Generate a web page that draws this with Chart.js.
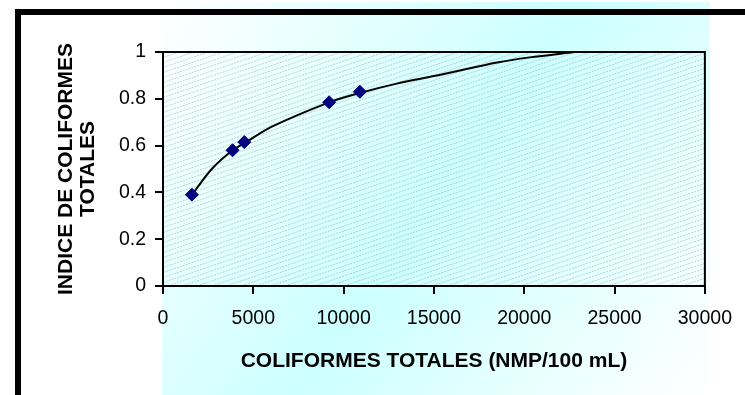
<!DOCTYPE html>
<html>
<head>
<meta charset="utf-8">
<style>
  html, body { margin: 0; padding: 0; background: #fff; }
</style>
<script src="https://cdn.jsdelivr.net/npm/chart.js@4.4.0/dist/chart.umd.min.js"></script>
</head>
<body>
<canvas id="myChart" width="745" height="395"></canvas>
<script>
// measured samples
var pointX = [1600, 3850, 4500, 9200, 10900];
var pointY = [0.39, 0.58, 0.615, 0.785, 0.83];
// trend curve
var curveX = [1600, 2700, 3850, 4500, 6000, 9200, 10900, 13000, 15000, 18500, 20300, 22800];
var curveY = [0.39, 0.50, 0.58, 0.61, 0.68, 0.785, 0.825, 0.866, 0.897, 0.955, 0.977, 1.0];
var xTicks = [0, 5000, 10000, 15000, 20000, 25000, 30000];
var yTicks = [0, 0.2, 0.4, 0.6, 0.8, 1];
var xTitle = 'COLIFORMES TOTALES (NMP/100 mL)';
var yTitle = ['INDICE DE COLIFORMES', 'TOTALES'];

function toXY(xs, ys) {
    return xs.map(function (x, i) { return { x: x, y: ys[i] }; });
}

var backdrop = {
    id: 'backdrop',
    beforeDraw: function (chart) {
        var c = chart.ctx, a = chart.chartArea;
        c.save();
        c.fillStyle = '#fff';
        c.fillRect(0, 0, chart.width, chart.height);
        // cyan gradient panel
        var g = c.createLinearGradient(162, 2, 710, 395);
        g.addColorStop(0, '#ffffff');
        g.addColorStop(0.5, '#ccffff');
        g.addColorStop(1, '#ffffff');
        c.fillStyle = g;
        c.fillRect(162, 2, 548, 393);
        // hatching in the plot area
        c.beginPath();
        c.rect(a.left, a.top, a.right - a.left, a.bottom - a.top);
        c.clip();
        c.strokeStyle = 'rgba(120,140,140,0.38)';
        c.lineWidth = 1;
        c.setLineDash([2, 1]);
        var w = a.right - a.left;
        for (var y = a.top - 5; y < a.bottom + w * 0.34 + 10; y += 5) {
            c.beginPath();
            c.moveTo(a.left, y + 0.5);
            c.lineTo(a.right, y - w * 0.34 + 0.5);
            c.stroke();
        }
        c.restore();
        // black frame
        c.save();
        c.fillStyle = '#000';
        c.fillRect(15, 9, 730, 6);
        c.fillRect(15, 9, 6, 386);
        c.restore();
    },
    afterDatasetsDraw: function (chart) {
        var c = chart.ctx, a = chart.chartArea;
        c.save();
        c.strokeStyle = '#000';
        c.lineWidth = 2;
        c.beginPath();
        c.moveTo(a.left, a.top);
        c.lineTo(a.right, a.top);
        c.lineTo(a.right, a.bottom);
        c.stroke();
        c.restore();
    }
};

var ctx = document.getElementById('myChart').getContext('2d');
var myChart = new Chart(ctx, {
    type: 'scatter',
    data: {
        datasets: [{
            label: 'curva',
            data: toXY(curveX, curveY),
            showLine: true,
            borderColor: '#000',
            borderWidth: 2,
            pointRadius: 0,
            tension: 0.3,
            order: 2
        }, {
            label: 'datos',
            data: toXY(pointX, pointY),
            pointStyle: 'rectRot',
            pointRadius: 6.5,
            backgroundColor: '#000080',
            borderColor: '#000080',
            borderWidth: 1,
            order: 1
        }]
    },
    options: {
        responsive: false,
        devicePixelRatio: 1,
        animation: false,
        layout: { padding: { left: 0, right: 35, top: 52, bottom: 0 } },
        plugins: { legend: { display: false }, tooltip: { enabled: false } },
        scales: {
            x: {
                type: 'linear',
                min: 0,
                max: 30000,
                afterBuildTicks: function (s) { s.ticks = xTicks.map(function (v) { return { value: v }; }); },
                afterFit: function (s) { s.height = 109; },
                ticks: {
                    color: '#000',
                    padding: 13,
                    font: { family: 'Liberation Sans', size: 19.5 },
                    callback: function (v) { return String(v); }
                },
                grid: { drawOnChartArea: false, drawTicks: true, tickLength: 8, color: '#000', lineWidth: 2 },
                border: { display: true, color: '#000', width: 2 },
                title: {
                    display: true,
                    text: xTitle,
                    color: '#000',
                    font: { family: 'Liberation Sans', size: 21, weight: 'bold' },
                    padding: { top: 0, bottom: 21 }
                }
            },
            y: {
                min: 0,
                max: 1,
                afterBuildTicks: function (s) { s.ticks = yTicks.map(function (v) { return { value: v }; }); },
                afterFit: function (s) { s.width = 163; },
                ticks: {
                    color: '#000',
                    padding: 9,
                    font: { family: 'Liberation Sans', size: 19.5 },
                    callback: function (v) { return String(+v.toFixed(1)); }
                },
                grid: { drawOnChartArea: false, drawTicks: true, tickLength: 8, color: '#000', lineWidth: 2 },
                border: { display: true, color: '#000', width: 2 },
                title: {
                    display: true,
                    text: yTitle,
                    color: '#000',
                    font: { family: 'Liberation Sans', size: 21, weight: 'bold', lineHeight: 1.05 },
                    padding: { top: 55, bottom: 0 }
                }
            }
        }
    },
    plugins: [backdrop]
});
</script>
</body>
</html>
